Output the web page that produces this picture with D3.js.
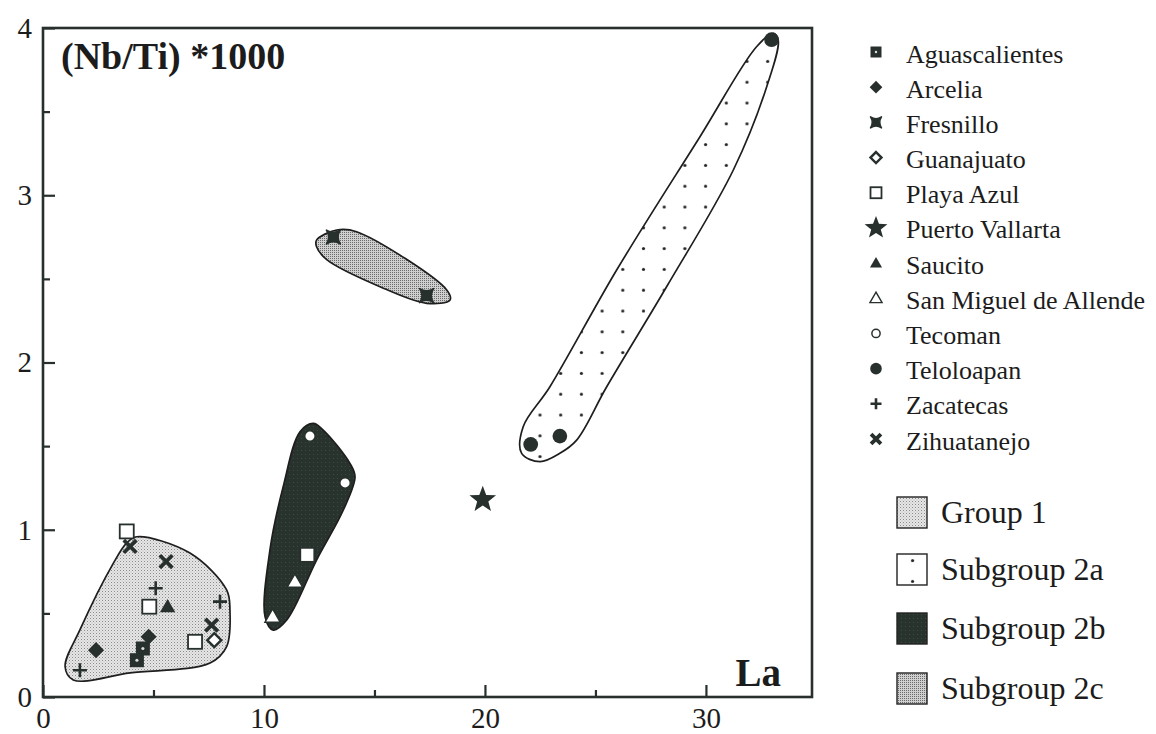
<!DOCTYPE html>
<html><head><meta charset="utf-8">
<script src="https://cdn.jsdelivr.net/npm/d3@7"></script>
<style>
body{margin:0;background:#fff}
svg{display:block}
text{font-family:"Liberation Serif","Times New Roman",serif;fill:#1c1c1c}
</style>
</head><body>
<svg id="c" width="1156" height="734"></svg>
<script>
// ---------------- data ----------------
const xMajorTicks = [0, 10, 20, 30];
const xMinorTicks = [5, 15, 25];
const yMajorTicks = [0, 1, 2, 3, 4];
const yMinorTicks = [0.5, 1.5, 2.5, 3.5];

const siteNames = ["Aguascalientes","Arcelia","Fresnillo","Guanajuato","Playa Azul","Puerto Vallarta","Saucito","San Miguel de Allende","Tecoman","Teloloapan","Zacatecas","Zihuatanejo"];
const siteSymbols = ["sqDot","diamond","fresnillo","diamondOpen","square","star","triangle","triangleOpen","circleOpen","circle","plus","cross"];

// [La, (Nb/Ti)*1000]
const aguascalientes = [[4.25,0.22],[4.52,0.29]];
const arcelia = [[2.40,0.28],[4.78,0.36]];
const fresnillo = [[13.14,2.75],[17.36,2.40]];
const guanajuato = [[7.75,0.34]];
const playaAzul = [[3.79,0.99],[4.81,0.54],[6.88,0.33],[11.96,0.85]];
const puertoVallarta = [[19.9,1.18]];
const saucito = [[5.64,0.54]];
const sanMiguel = [[11.40,0.69],[10.39,0.48]];
const tecoman = [[12.08,1.56],[13.67,1.28]];
const teloloapan = [[32.97,3.93],[22.07,1.51],[23.39,1.56]];
const zacatecas = [[5.10,0.65],[8.01,0.57],[1.67,0.16]];
const zihuatanejo = [[3.94,0.90],[5.57,0.81],[7.63,0.43]];
const siteData = [aguascalientes,arcelia,fresnillo,guanajuato,playaAzul,puertoVallarta,saucito,sanMiguel,tecoman,teloloapan,zacatecas,zihuatanejo];

// group outlines (La, (Nb/Ti)*1000)
const group1Hull = [[4.24,0.958],[6.65,0.861],[8.31,0.640],[8.46,0.520],[8.31,0.301],[7.56,0.203],[3.94,0.144],[1.37,0.102],[1.00,0.181],[1.67,0.401],[3.18,0.799],[3.79,0.921]];
const sub2aHull = [[33.05,3.968],[33.27,3.928],[32.75,3.649],[31.24,3.151],[28.22,2.453],[25.51,1.855],[24.15,1.536],[23.39,1.457],[22.49,1.407],[21.66,1.457],[21.73,1.616],[22.94,1.855],[25.96,2.553],[29.73,3.350],[32.29,3.888]];
const sub2bHull = [[12.23,1.636],[11.63,1.586],[10.87,1.258],[10.27,0.879],[10.05,0.480],[10.42,0.400],[11.03,0.460],[12.38,0.819],[13.59,1.118],[14.12,1.317],[13.89,1.397],[12.68,1.596]];
const sub2cHull = [[12.38,2.732],[13.29,2.792],[14.19,2.782],[18.27,2.434],[18.42,2.374],[17.36,2.354],[15.25,2.453],[12.84,2.615],[12.38,2.692]];
const groupNames = ["Group 1","Subgroup 2a","Subgroup 2b","Subgroup 2c"];
const groupHulls = [group1Hull, sub2aHull, sub2bHull, sub2cHull];

// ---------------- drawing ----------------
const ink = "#27302c";
const svg = d3.select("#c");
svg.append("rect").attr("width",1156).attr("height",734).attr("fill","#fff");

const defs = svg.append("defs");
// Group 1: light stipple
const p1 = defs.append("pattern").attr("id","pg1").attr("patternUnits","userSpaceOnUse").attr("width",3).attr("height",3);
p1.append("rect").attr("width",3).attr("height",3).attr("fill","#e6e6e6");
p1.append("rect").attr("x",0).attr("y",0).attr("width",1).attr("height",1).attr("fill","#8a8a8a");
p1.append("rect").attr("x",1.5).attr("y",1.5).attr("width",1).attr("height",1).attr("fill","#b4b4b4");
// 2a: sparse dots
const p2a = defs.append("pattern").attr("id","pg2a").attr("patternUnits","userSpaceOnUse")
  .attr("width",20.7).attr("height",20.8).attr("x",540-10.35).attr("y",415-10.4);
p2a.append("rect").attr("width",20.7).attr("height",20.8).attr("fill","#fff");
p2a.append("circle").attr("cx",10.35).attr("cy",10.4).attr("r",1.6).attr("fill","#222");
// 2b: dark
const p2b = defs.append("pattern").attr("id","pg2b").attr("patternUnits","userSpaceOnUse").attr("width",4).attr("height",4);
p2b.append("rect").attr("width",4).attr("height",4).attr("fill","#29332e");
p2b.append("rect").attr("x",1).attr("y",2).attr("width",1).attr("height",1).attr("fill","#3d4742");
// 2c: medium stipple
const p2c = defs.append("pattern").attr("id","pg2c").attr("patternUnits","userSpaceOnUse").attr("width",2).attr("height",2);
p2c.append("rect").attr("width",2).attr("height",2).attr("fill","#cfcfcf");
p2c.append("rect").attr("width",1).attr("height",1).attr("fill","#6a6a6a");
const groupFills = ["url(#pg1)","url(#pg2a)","url(#pg2b)","url(#pg2c)"];

const x = d3.scaleLinear().domain([0,34.8]).range([43,812]);
const y = d3.scaleLinear().domain([0,4]).range([697,28]);

// hulls
const hullLine = d3.line().x(d=>x(d[0])).y(d=>y(d[1])).curve(d3.curveCatmullRomClosed.alpha(0.5));
svg.append("g").selectAll("path").data(groupHulls).join("path")
  .attr("d", hullLine)
  .attr("fill",(d,i)=>groupFills[i])
  .attr("stroke","#1e1e1e").attr("stroke-width",1.7);

// symbols
function starPath(R){
  const pts=[];
  for(let k=0;k<10;k++){
    const r = k%2===0 ? R : R*0.42;
    const a = -Math.PI/2 + k*Math.PI/5;
    pts.push([r*Math.cos(a), r*Math.sin(a)]);
  }
  return "M"+pts.map(p=>p[0].toFixed(2)+","+p[1].toFixed(2)).join("L")+"Z";
}
function drawSymbol(g, type, s){
  switch(type){
    case "sqDot":
      g.append("rect").attr("x",-s).attr("y",-s).attr("width",2*s).attr("height",2*s).attr("fill",ink);
      g.append("circle").attr("r",Math.max(1,s*0.22)).attr("fill","#ddd");
      break;
    case "diamond":
      g.append("path").attr("d",`M0,${-s*1.15}L${s*1.15},0L0,${s*1.15}L${-s*1.15},0Z`).attr("fill",ink);
      break;
    case "diamondOpen":
      g.append("path").attr("d",`M0,${-s}L${s},0L0,${s}L${-s},0Z`).attr("fill","#fff").attr("stroke",ink).attr("stroke-width",2.4);
      break;
    case "fresnillo":
      g.append("path").attr("d",`M${-s},${-s}Q0,${-s*0.35} ${s},${-s}Q${s*0.35},0 ${s},${s}Q0,${s*0.35} ${-s},${s}Q${-s*0.35},0 ${-s},${-s}Z`)
        .attr("fill",ink).attr("stroke",ink).attr("stroke-width",1.5).attr("stroke-linejoin","round");
      break;
    case "square":
      g.append("rect").attr("x",-s).attr("y",-s).attr("width",2*s).attr("height",2*s).attr("fill","#fff").attr("stroke",ink).attr("stroke-width",1.8);
      break;
    case "star":
      g.append("path").attr("d",starPath(s*2)).attr("fill",ink);
      break;
    case "triangle":
      g.append("path").attr("d",`M0,${-s*1.1}L${s*1.1},${s*0.8}L${-s*1.1},${s*0.8}Z`).attr("fill",ink);
      break;
    case "triangleOpen":
      g.append("path").attr("d",`M0,${-s*1.1}L${s*1.1},${s*0.8}L${-s*1.1},${s*0.8}Z`).attr("fill","#fff").attr("stroke",ink).attr("stroke-width",1.4);
      break;
    case "circleOpen":
      g.append("circle").attr("r",s*0.75).attr("fill","#fff").attr("stroke",ink).attr("stroke-width",1.5);
      break;
    case "circle":
      g.append("circle").attr("r",s*1.05).attr("fill",ink);
      break;
    case "plus":
      g.append("path").attr("d",`M${-s},0H${s}M0,${-s}V${s}`).attr("stroke",ink).attr("stroke-width",2.6).attr("fill","none");
      break;
    case "cross":
      g.append("path").attr("d",`M${-s*0.9},${-s*0.9}L${s*0.9},${s*0.9}M${s*0.9},${-s*0.9}L${-s*0.9},${s*0.9}`).attr("stroke",ink).attr("stroke-width",3.8).attr("fill","none");
      break;
  }
}

const pts = svg.append("g");
siteData.forEach((arr,i)=>{
  pts.selectAll(null).data(arr).join("g")
    .attr("transform",d=>`translate(${x(d[0])},${y(d[1])})`)
    .each(function(){ drawSymbol(d3.select(this), siteSymbols[i], 7); });
});

// axes
const xAxis = d3.axisBottom(x).tickValues(xMajorTicks).tickSize(-12).tickPadding(10).tickFormat(d3.format("d"));
const xAxisMinor = d3.axisBottom(x).tickValues(xMinorTicks).tickSize(-7).tickFormat("");
const yAxis = d3.axisLeft(y).tickValues(yMajorTicks).tickSize(-12).tickPadding(11).tickFormat(d3.format("d"));
const yAxisMinor = d3.axisLeft(y).tickValues(yMinorTicks).tickSize(-7).tickFormat("");
function styleAxis(g){
  g.select(".domain").remove();
  g.selectAll("line").attr("stroke",ink).attr("stroke-width",2.2);
  g.selectAll("text").attr("font-family","Liberation Serif, serif").attr("font-size",29).attr("fill","#1c1c1c");
}
const axG = svg.append("g");
axG.append("g").attr("transform","translate(0,697)").call(xAxis).call(styleAxis);
axG.append("g").attr("transform","translate(0,697)").call(xAxisMinor).call(styleAxis);
axG.append("g").attr("transform","translate(43,0)").call(yAxis).call(styleAxis);
axG.append("g").attr("transform","translate(43,0)").call(yAxisMinor).call(styleAxis);

// frame
svg.append("rect").attr("x",x(0)).attr("y",y(4)).attr("width",x(34.8)-x(0)).attr("height",y(0)-y(4))
  .attr("fill","none").attr("stroke",ink).attr("stroke-width",2.6);

// axis titles
svg.append("text").attr("x",61).attr("y",69).attr("font-size",38).attr("font-weight","bold").attr("fill","#2a2f2c").text("(Nb/Ti) *1000");
svg.append("text").attr("x",781).attr("y",686).attr("text-anchor","end").attr("font-size",39).attr("font-weight","bold").attr("fill","#2a2f2c").text("La");

// legend: sites
const legRowY = d3.scaleLinear().domain([0,11]).range([54,441]);
const leg = svg.append("g");
siteNames.forEach((name,i)=>{
  const cy = legRowY(i);
  const g = leg.append("g").attr("transform",`translate(876,${cy - 2})`);
  drawSymbol(g, siteSymbols[i], siteSymbols[i]==="star" ? 6 : 5.5);
  leg.append("text").attr("x",906).attr("y",cy).attr("dy","0.33em").attr("font-size",26).text(name);
});

// legend: groups
const grpRowY = [512, 569, 628, 688];
groupNames.forEach((name,i)=>{
  const cy = grpRowY[i];
  leg.append("rect").attr("x",897).attr("y",cy-15).attr("width",30).attr("height",31)
    .attr("fill",groupFills[i]).attr("stroke","#222").attr("stroke-width",1.4);
  leg.append("text").attr("x",941).attr("y",cy).attr("dy","0.33em").attr("font-size",32).text(name);
});
</script>
</body></html>
